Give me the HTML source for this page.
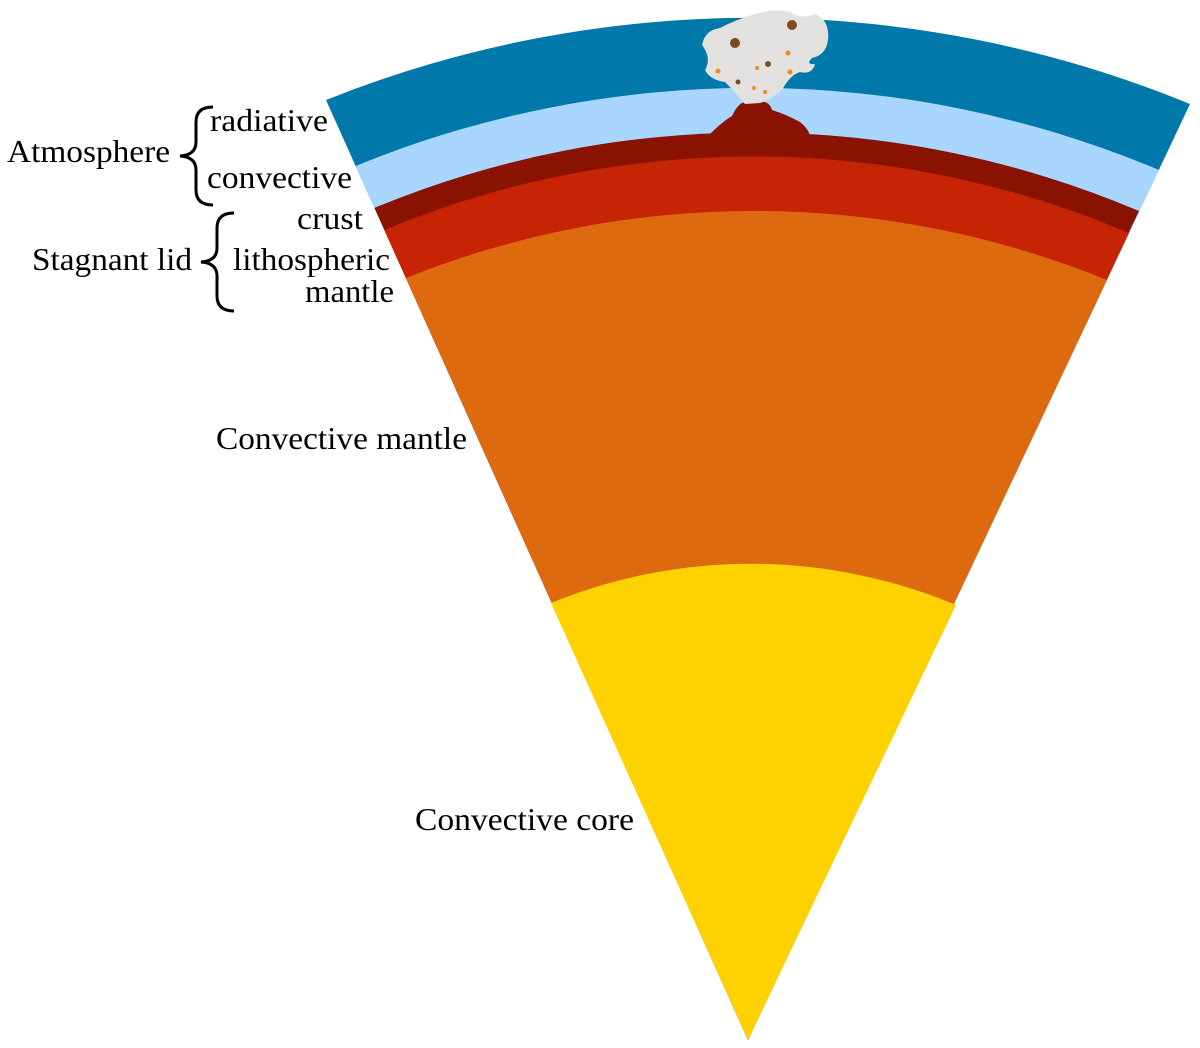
<!DOCTYPE html>
<html><head><style>
html,body{margin:0;padding:0;background:#fff;width:1200px;height:1048px;overflow:hidden}
svg{display:block}
text{font-family:"Liberation Serif",serif;font-size:32px;fill:#000}
</style></head><body>
<svg width="1200" height="1048" viewBox="0 0 1200 1048">
<path d="M748 1040 L326 100 A1150 1150 0 0 1 1190 104 Z" fill="#0079aa"/>
<path d="M748 1040 L355.6 166 A1047 1047 0 0 1 1159 170 Z" fill="#a8d6ff"/>
<path d="M748 1040 L374.4 207.9 A988 988 0 0 1 1139 211 Z" fill="#8a1200"/>
<path d="M748 1040 L384.3 229.9 A962 962 0 0 1 1129 233 Z" fill="#c72305"/>
<path d="M748 1040 L406 278 A937 937 0 0 1 1107 280 Z" fill="#dd6a0e"/>
<path d="M748 1040 L551 603 A530 530 0 0 1 956 605 Z" fill="#fdd200"/>
<!-- volcano -->
<path d="M710 134 Q722 122 732 116 Q738 103 745 102 Q755 104 760 101 Q770 102 772 110 Q785 114 800 122 Q808 128 810 136 L710 138 Z" fill="#8a1200"/>
<!-- ash cloud -->
<path d="M745 104 Q735 92 725 82 Q710 80 705 70 Q712 58 702 45 Q705 30 720 28 Q735 20 755 14 Q775 8 790 12 Q800 20 815 14 Q830 20 828 40 Q826 55 812 58 Q805 65 815 64 Q812 75 800 72 Q790 75 782 90 Q770 100 760 103 Z" fill="#e3e1e0"/>
<circle cx="792" cy="25" r="5" fill="#7a4a20"/>
<circle cx="735" cy="43" r="5" fill="#7a4a20"/>
<circle cx="768" cy="64" r="3" fill="#7a4a20"/>
<circle cx="738" cy="82" r="2.5" fill="#7a4a20"/>
<g fill="#f08a20"><circle cx="788" cy="53" r="2.5"/><circle cx="718" cy="71" r="2.5"/><circle cx="757" cy="68" r="2"/><circle cx="754" cy="88" r="2"/><circle cx="765" cy="92" r="2"/><circle cx="790" cy="72" r="2.5"/></g>
<!-- braces -->
<path d="M213 107 Q196 107 196 122 L196 142 Q196 155 180 156 Q196 157 196 170 L196 190 Q196 205 213 205" fill="none" stroke="#000" stroke-width="3"/>
<path d="M234 213 Q217 213 217 228 L217 248 Q217 261 201 262 Q217 263 217 276 L217 296 Q217 311 234 311" fill="none" stroke="#000" stroke-width="3"/>
<text x="7" y="162" textLength="163" lengthAdjust="spacingAndGlyphs">Atmosphere</text>
<text x="210" y="131" textLength="118" lengthAdjust="spacingAndGlyphs">radiative</text>
<text x="207" y="188" textLength="145" lengthAdjust="spacingAndGlyphs">convective</text>
<text x="297" y="229" textLength="66" lengthAdjust="spacingAndGlyphs">crust</text>
<text x="32" y="270" textLength="160" lengthAdjust="spacingAndGlyphs">Stagnant lid</text>
<text x="233" y="270" textLength="157" lengthAdjust="spacingAndGlyphs">lithospheric</text>
<text x="305" y="302" textLength="89" lengthAdjust="spacingAndGlyphs">mantle</text>
<text x="216" y="449" textLength="251" lengthAdjust="spacingAndGlyphs">Convective mantle</text>
<text x="415" y="830" textLength="219" lengthAdjust="spacingAndGlyphs">Convective core</text>
</svg>
</body></html>
